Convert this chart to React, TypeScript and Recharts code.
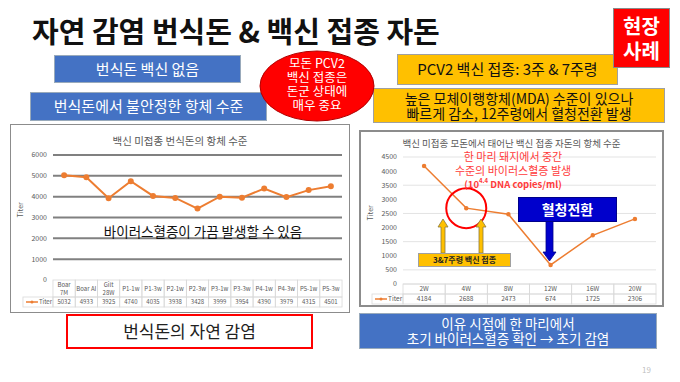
import React from 'react';
import { LineChart, Line, XAxis, YAxis, CartesianGrid, ReferenceLine, ReferenceDot } from 'recharts';

const leftCats = ['Boar\n7M', 'Boar AI', 'Gilt\n28W', 'P1-1w', 'P1-3w', 'P2-1w', 'P2-3w', 'P3-1w', 'P3-3w', 'P4-1w', 'P4-3w', 'P5-1w', 'P5-3w'];
const leftTiter = [5032, 4933, 3925, 4740, 4035, 3938, 3428, 3999, 3954, 4390, 3979, 4315, 4501];
const leftYTicks = [0, 1000, 2000, 3000, 4000, 5000, 6000];

const rightCats = ['2W', '4W', '8W', '12W', '16W', '20W'];
const rightTiter = [4184, 2688, 2473, 674, 1725, 2306];
const rightYTicks = [0, 500, 1000, 1500, 2000, 2500, 3000, 3500, 4000, 4500];

const FONT = "'Noto Sans CJK KR', 'Noto Sans', sans-serif";
const ORANGE = '#ED7D31';

// draws one column of the data table under the plot (category row + value row)
const TableTick = (props: any) => {
  const { x, y, payload, index, colW, headH, rowH, values, legendW, fs } = props;
  const left = x - colW / 2;
  const lines = String(payload.value).split('\n');
  const lh = fs + 1.8;
  const headMid = y + headH / 2;
  return (
    <g>
      <rect x={left} y={y} width={colW} height={headH} fill="none" stroke="#d9d9d9" strokeWidth={0.8} />
      <rect x={left} y={y + headH} width={colW} height={rowH} fill="none" stroke="#d9d9d9" strokeWidth={0.8} />
      {lines.map((l, i) => (
        <text key={i} x={x} y={headMid + (i - (lines.length - 1) / 2) * lh + fs * 0.35} textAnchor="middle" fontSize={fs} fill="#595959" fontFamily={FONT}>
          {l}
        </text>
      ))}
      <text x={x} y={y + headH + rowH / 2 + fs * 0.35} textAnchor="middle" fontSize={fs} fill="#595959" fontFamily={FONT}>
        {values[index]}
      </text>
      {index === 0 && (
        <g>
          <rect x={left - legendW} y={y + headH} width={legendW} height={rowH} fill="none" stroke="#d9d9d9" strokeWidth={0.8} />
          <line x1={left - legendW + 3} x2={left - legendW + 15} y1={y + headH + rowH / 2} y2={y + headH + rowH / 2} stroke={ORANGE} strokeWidth={1.5} />
          <circle cx={left - legendW + 9} cy={y + headH + rowH / 2} r={1.5} fill={ORANGE} />
          <text x={left - legendW + 16} y={y + headH + rowH / 2 + fs * 0.35} fontSize={fs} fill="#595959" fontFamily={FONT}>Titer</text>
        </g>
      )}
    </g>
  );
};

const Box = ({ left, top, width, height, bg, border, color = '#fff', fontSize, lineHeight, weight = 400, children }: any) => (
  <div
    style={{
      position: 'absolute', left, top, width, height, background: bg, border, boxSizing: 'border-box',
      color, fontSize, lineHeight: lineHeight ? `${lineHeight}px` : 1.1, fontWeight: weight,
      display: 'flex', alignItems: 'center', justifyContent: 'center', textAlign: 'center', whiteSpace: 'pre',
    }}
  >
    {children}
  </div>
);

export default function App() {
  const leftData = leftCats.map((cat, i) => ({ cat, titer: leftTiter[i] }));
  const rightData = rightCats.map((cat, i) => ({ cat, titer: rightTiter[i] }));

  const leftColW = 290 / leftCats.length;
  const rightColW = 253 / rightCats.length;

  return (
    <div style={{ position: 'absolute', left: 0, top: 0, width: 680, height: 382, overflow: 'hidden', background: '#fff', fontFamily: FONT }}>
      <div style={{ position: 'absolute', left: 32, top: 14, fontSize: 29, lineHeight: '32px', fontWeight: 700, color: '#111', whiteSpace: 'pre' }}>
        자연 감염 번식돈 &amp; 백신 접종 자돈
      </div>

      <Box left={54} top={55} width={187} height={28} bg="#4472C4" border="1px solid #9ab" fontSize={15}>번식돈 백신 없음</Box>
      <Box left={30} top={92} width={237} height={29} bg="#4472C4" border="1px solid #9ab" fontSize={15}>번식돈에서 불안정한 항체 수준</Box>

      <Box left={397} top={54} width={221} height={31} bg="#FFC000" border="1px solid #a0a0a0" color="#111" fontSize={15}>PCV2 백신 접종: 3주 &amp; 7주령</Box>
      <Box left={373} top={88} width={292} height={35} bg="#FFC000" border="1px solid #a0a0a0" color="#111" fontSize={14} lineHeight={14.5}>
        {'높은 모체이행항체(MDA) 수준이 있으나\n빠르게 감소, 12주령에서 혈청전환 발생'}
      </Box>
      {/* red box sits over the first yellow box */}
      <Box left={613} top={8} width={57} height={60} bg="#FF0000" border="1px solid #8a8a8a" fontSize={20} lineHeight={25} weight={700}>
        {'현장\n사례'}
      </Box>

      <svg width={680} height={382} style={{ position: 'absolute', left: 0, top: 0 }}>
        <ellipse cx={317} cy={86} rx={57} ry={35} fill="#FF0000" stroke="#b00000" strokeWidth={1} />
      </svg>
      <Box left={262} top={54} width={110} height={60} bg="transparent" fontSize={12.5} lineHeight={14}>
        {'모돈 PCV2\n백신 접종은\n돈군 상태에\n매우 중요'}
      </Box>

      {/* left chart */}
      <div style={{ position: 'absolute', left: 10, top: 124, width: 340, height: 189, border: '1.5px solid #8c8c8c', boxSizing: 'border-box', background: '#fff' }}>
        <div style={{ position: 'absolute', left: 0, width: '100%', top: 8, textAlign: 'center', fontSize: 10.5, color: '#595959' }}>
          백신 미접종 번식돈의 항체 수준
        </div>
        <LineChart width={337} height={186} data={leftData} margin={{ top: 30, right: 6, left: 0, bottom: 0 }}>
          {leftYTicks.filter((t) => t > 0).map((t) => (
            <ReferenceLine key={t} y={t} stroke="#808080" strokeWidth={2} />
          ))}
          <XAxis
            dataKey="cat"
            scale="band"
            interval={0}
            height={31}
            tickSize={0}
            tickMargin={0}
            axisLine={false}
            tickLine={false}
            tick={(p: any) => <TableTick {...p} colW={leftColW} headH={17} rowH={10} values={leftTiter} legendW={30} fs={6} />}
          />
          <YAxis
            type="number"
            domain={[0, 6000]}
            ticks={leftYTicks}
            width={42}
            tickSize={0}
            tickMargin={6}
            axisLine={false}
            tickLine={false}
            tick={{ fontSize: 7, fill: '#595959' }}
            label={{ value: 'Titer', angle: -90, position: 'insideLeft', offset: 10, fontSize: 7, fill: '#595959' }}
          />
          <Line dataKey="titer" stroke={ORANGE} strokeWidth={2} dot={{ r: 2, fill: ORANGE, stroke: ORANGE }} isAnimationActive={false} />
        </LineChart>
      </div>
      <div style={{ position: 'absolute', left: 60, width: 286, top: 221, textAlign: 'center', fontSize: 13.5, color: '#111', whiteSpace: 'pre' }}>
        바이러스혈증이 가끔 발생할 수 있음
      </div>

      {/* right chart */}
      <div style={{ position: 'absolute', left: 359, top: 130, width: 305, height: 177, border: '2px solid #8c8c8c', boxSizing: 'border-box', background: '#fff' }}>
        <div style={{ position: 'absolute', left: 0, width: '100%', top: 6, textAlign: 'center', fontSize: 9.5, lineHeight: '11px', color: '#595959' }}>
          백신 미접종 모돈에서 태어난 백신 접종 자돈의 항체 수준
        </div>
        <LineChart width={301} height={173} data={rightData} margin={{ top: 25, right: 6, left: 0, bottom: 0 }}>
          <CartesianGrid vertical={false} stroke="#e3e3e3" />
          <XAxis
            dataKey="cat"
            scale="band"
            interval={0}
            height={21}
            tickSize={0}
            tickMargin={0}
            axisLine={false}
            tickLine={false}
            tick={(p: any) => <TableTick {...p} colW={rightColW} headH={10} rowH={10} values={rightTiter} legendW={31} fs={6.5} />}
          />
          <YAxis
            type="number"
            domain={[0, 4500]}
            ticks={rightYTicks}
            width={42}
            tickSize={0}
            tickMargin={6}
            axisLine={false}
            tickLine={false}
            tick={{ fontSize: 7, fill: '#595959' }}
            label={{ value: 'Titer', angle: -90, position: 'insideLeft', offset: 10, fontSize: 7, fill: '#595959' }}
          />
          <Line dataKey="titer" stroke={ORANGE} strokeWidth={1.5} dot={{ r: 1.5, fill: ORANGE, stroke: ORANGE }} isAnimationActive={false} />
          <ReferenceDot x="4W" y={2688} r={20} fill="none" stroke="#FF0000" strokeWidth={2} />
        </LineChart>
      </div>

      <div style={{ position: 'absolute', left: 430, width: 166, top: 150, textAlign: 'center', color: '#FF3B3B', fontSize: 11, lineHeight: '13.5px', whiteSpace: 'pre' }}>
        {'한 마리 돼지에서 중간\n수준의 바이러스혈증 발생'}
        <div style={{ fontSize: 9.5, fontWeight: 700, lineHeight: '14px' }}>
          (10<span style={{ fontSize: 6, verticalAlign: 'top', lineHeight: '8px' }}>4.4</span> DNA copies/ml)
        </div>
      </div>

      <svg width={680} height={382} style={{ position: 'absolute', left: 0, top: 0 }}>
        <polygon points="443,219 448,227 445,227 445,253 441,253 441,227 438,227" fill="#FFC000" stroke="#8a7a40" strokeWidth={0.8} />
        <polygon points="481,219 486,227 483,227 483,253 479,253 479,227 476,227" fill="#FFC000" stroke="#8a7a40" strokeWidth={0.8} />
        <polygon points="546,221 553,221 553,252 556,252 549.5,261 543,252 546,252" fill="#0000CC" stroke="#00008a" strokeWidth={0.8} />
      </svg>
      <Box left={518} top={197} width={99} height={25} bg="#0000CC" border="1px solid #00008a" fontSize={14} weight={700}>혈청전환</Box>
      <Box left={418} top={253} width={93} height={14} bg="#FFC000" border="1px solid #a0a0a0" color="#222" fontSize={8} weight={700}>3&amp;7주령 백신 접종</Box>

      {/* bottom captions */}
      <Box left={66} top={314} width={247} height={35} bg="#fff" border="2px solid #FF0000" color="#222" fontSize={17}>번식돈의 자연 감염</Box>
      <Box left={359} top={313} width={298} height={36} bg="#4472C4" border="1px solid #9ab" fontSize={13.5} lineHeight={15}>
        {'이유 시점에 한 마리에서\n초기 바이러스혈증 확인 → 초기 감염'}
      </Box>
      <div style={{ position: 'absolute', left: 642, top: 364, fontSize: 8, color: '#bfbfbf' }}>19</div>
    </div>
  );
}
